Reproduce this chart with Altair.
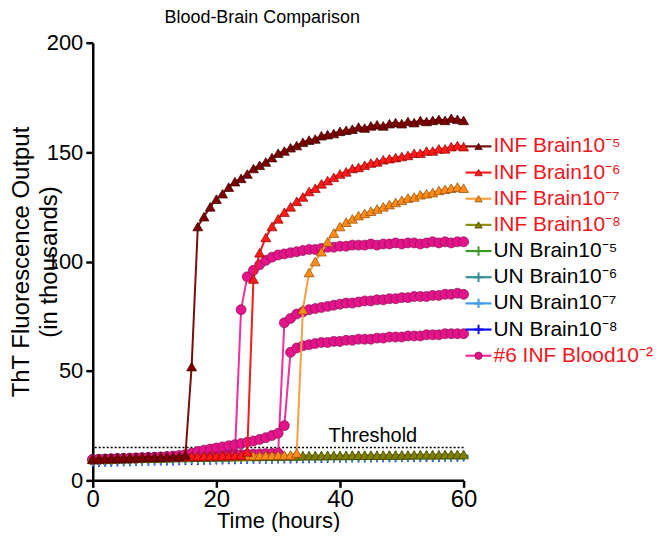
import altair as alt
import pandas as pd

# ---------------- data (in thousands) ----------------
hours = list(range(0, 61))

inf_brain_5 = [9.8, 9.9, 10.0, 10.1, 10.2, 10.3, 10.3, 10.4, 10.5, 10.6,
               10.6, 10.7, 10.8, 10.9, 11.0, 11.6, 52.0, 116.0, 120.5, 125.0,
               128.5, 131.0, 134.0, 136.5, 138.0, 140.0, 142.5, 144.0, 145.5, 147.5,
               149.5, 150.5, 152.0, 153.0, 154.5, 155.5, 156.0, 157.5, 158.0, 158.5,
               159.5, 160.0, 160.5, 161.5, 161.0, 162.0, 162.5, 162.0, 163.0, 163.5,
               163.0, 164.0, 163.5, 164.5, 164.0, 164.5, 165.0, 164.5, 165.5, 165.0,
               164.5]
inf_brain_6 = [9.7, 9.8, 9.9, 10.0, 10.1, 10.2, 10.2, 10.3, 10.4, 10.5,
               10.5, 10.6, 10.7, 10.8, 10.8, 10.9, 11.0, 11.0, 11.1, 11.2,
               11.2, 11.3, 11.3, 11.4, 11.5, 13.0, 92.0, 104.0, 111.0, 116.0,
               119.5, 122.5, 125.0, 127.5, 129.5, 132.0, 133.5, 135.5, 137.0, 138.5,
               140.0, 141.0, 142.5, 143.0, 144.0, 145.0, 145.5, 146.5, 147.0, 147.5,
               148.0, 148.5, 149.5, 149.5, 150.5, 150.5, 151.5, 151.5, 152.5, 153.0,
               152.5]
inf_brain_7 = [9.6, 9.7, 9.8, 9.9, 10.0, 10.1, 10.1, 10.2, 10.3, 10.3,
               10.4, 10.5, 10.5, 10.6, 10.7, 10.7, 10.8, 10.8, 10.9, 10.9,
               11.0, 11.0, 11.1, 11.1, 11.2, 11.2, 11.3, 11.3, 11.4, 11.4,
               11.5, 11.5, 11.6, 12.5, 78.0, 95.0, 100.0, 104.5, 109.0, 113.0,
               116.0, 118.0, 119.5, 121.0, 122.0, 123.0, 124.0, 125.0, 126.0, 127.0,
               128.0, 129.0, 129.5, 130.5, 131.0, 131.5, 132.5, 133.0, 133.5, 134.0,
               133.5]
inf_brain_8 = [9.6, 9.7, 9.8, 9.8, 9.9, 10.0, 10.0, 10.1, 10.2, 10.2,
               10.3, 10.3, 10.4, 10.4, 10.5, 10.5, 10.6, 10.6, 10.7, 10.7,
               10.8, 10.8, 10.8, 10.9, 10.9, 11.0, 11.0, 11.0, 11.1, 11.1,
               11.1, 11.2, 11.2, 11.2, 11.3, 11.3, 11.3, 11.3, 11.4, 11.4,
               11.4, 11.4, 11.5, 11.5, 11.5, 11.5, 11.5, 11.6, 11.6, 11.6,
               11.6, 11.6, 11.7, 11.7, 11.7, 11.7, 11.7, 11.8, 11.8, 11.8,
               11.8]
un_brain_5 = [9.3, 9.4, 9.5, 9.5, 9.6, 9.7, 9.7, 9.8, 9.9, 9.9,
              10.0, 10.0, 10.1, 10.1, 10.2, 10.2, 10.3, 10.3, 10.4, 10.4,
              10.5, 10.5, 10.5, 10.6, 10.6, 10.7, 10.7, 10.7, 10.8, 10.8,
              10.8, 10.9, 10.9, 10.9, 11.0, 11.0, 11.0, 11.0, 11.1, 11.1,
              11.1, 11.1, 11.2, 11.2, 11.2, 11.2, 11.2, 11.3, 11.3, 11.3,
              11.3, 11.3, 11.3, 11.4, 11.4, 11.4, 11.4, 11.4, 11.4, 11.4,
              11.4]
un_brain_6 = [9.0, 9.1, 9.2, 9.2, 9.3, 9.4, 9.4, 9.5, 9.6, 9.6,
              9.7, 9.7, 9.8, 9.8, 9.9, 9.9, 10.0, 10.0, 10.1, 10.1,
              10.2, 10.2, 10.3, 10.3, 10.4, 10.4, 10.4, 10.5, 10.5, 10.5,
              10.6, 10.6, 10.6, 10.7, 10.7, 10.7, 10.8, 10.8, 10.8, 10.8,
              10.9, 10.9, 10.9, 10.9, 11.0, 11.0, 11.0, 11.0, 11.0, 11.1,
              11.1, 11.1, 11.1, 11.1, 11.1, 11.2, 11.2, 11.2, 11.2, 11.2,
              11.2]
un_brain_7 = [8.6, 8.7, 8.8, 8.8, 8.9, 9.0, 9.0, 9.1, 9.2, 9.2,
              9.3, 9.3, 9.4, 9.4, 9.5, 9.5, 9.6, 9.6, 9.7, 9.7,
              9.8, 9.8, 9.9, 9.9, 10.0, 10.0, 10.1, 10.1, 10.2, 10.2,
              10.3, 10.3, 10.3, 10.4, 10.4, 10.4, 10.5, 10.5, 10.5, 10.6,
              10.6, 10.6, 10.6, 10.7, 10.7, 10.7, 10.7, 10.8, 10.8, 10.8,
              10.8, 10.8, 10.9, 10.9, 10.9, 10.9, 10.9, 11.0, 11.0, 11.0,
              11.0]
un_brain_8 = [8.2, 8.3, 8.4, 8.4, 8.5, 8.6, 8.6, 8.7, 8.8, 8.8,
              8.9, 8.9, 9.0, 9.0, 9.1, 9.1, 9.2, 9.2, 9.3, 9.3,
              9.4, 9.4, 9.5, 9.5, 9.6, 9.6, 9.7, 9.7, 9.8, 9.8,
              9.9, 9.9, 9.9, 10.0, 10.0, 10.0, 10.1, 10.1, 10.1, 10.2,
              10.2, 10.2, 10.3, 10.3, 10.3, 10.3, 10.4, 10.4, 10.4, 10.4,
              10.5, 10.5, 10.5, 10.5, 10.6, 10.6, 10.6, 10.7, 10.7, 10.7,
              10.8]
blood_a = [9.5, 9.6, 9.7, 9.8, 9.9, 10.0, 10.1, 10.2, 10.3, 10.4,
           10.5, 10.6, 10.7, 10.8, 10.9, 11.0, 11.1, 11.2, 11.3, 11.4,
           11.5, 11.6, 11.8, 12.0, 78.0, 93.0, 96.0, 98.5, 100.5, 102.0,
           103.0, 103.5, 104.0, 104.5, 105.0, 105.5, 105.5, 106.0, 106.5, 106.5,
           107.0, 107.0, 107.5, 107.5, 107.5, 108.0, 107.5, 108.0, 108.0, 108.5,
           108.0, 108.5, 108.5, 108.0, 108.5, 109.0, 108.5, 109.0, 108.5, 109.0,
           109.0]
blood_b = [9.4, 9.5, 9.6, 9.7, 9.8, 9.9, 10.0, 10.1, 10.2, 10.3,
           10.4, 10.5, 10.6, 10.7, 10.8, 10.9, 11.0, 11.1, 11.2, 11.3,
           11.4, 11.5, 11.6, 11.7, 11.8, 11.9, 12.0, 12.1, 12.2, 12.3,
           12.5, 72.0, 74.0, 76.0, 77.0, 78.0, 78.5, 79.0, 79.5, 80.0,
           80.5, 81.0, 81.0, 81.5, 82.0, 82.0, 82.5, 82.5, 83.0, 83.0,
           83.5, 83.5, 84.0, 84.0, 84.0, 84.5, 84.5, 85.0, 85.0, 85.5,
           85.0]
blood_c = [9.5, 9.6, 9.7, 9.8, 9.9, 10.0, 10.1, 10.2, 10.3, 10.4,
           10.5, 10.7, 10.9, 11.1, 11.4, 11.8, 12.4, 13.2, 13.8, 14.3,
           14.8, 15.3, 15.8, 16.3, 16.8, 17.4, 18.0, 18.7, 19.5, 20.5,
           21.5, 25.0, 58.5, 60.5, 61.5, 62.0, 62.5, 63.0, 63.0, 63.5,
           63.5, 64.0, 64.0, 64.5, 64.5, 64.5, 65.0, 65.0, 65.5, 65.5,
           65.5, 66.0, 66.0, 66.0, 66.5, 66.5, 66.5, 67.0, 67.0, 67.0,
           67.0]

legend_labels = ["INF Brain10\u207b\u2075", "INF Brain10\u207b\u2076",
                 "INF Brain10\u207b\u2077", "INF Brain10\u207b\u2078",
                 "UN Brain10\u207b\u2075", "UN Brain10\u207b\u2076",
                 "UN Brain10\u207b\u2077", "UN Brain10\u207b\u2078",
                 "#6 INF Blood10\u207b\u00b2"]
series_values = [[inf_brain_5], [inf_brain_6], [inf_brain_7], [inf_brain_8],
                 [un_brain_5], [un_brain_6], [un_brain_7], [un_brain_8],
                 [blood_a, blood_b, blood_c]]
threshold = [15]
x_ticks = [0, 20, 40, 60]
y_ticks = [0, 50, 100, 150, 200]

# ---------------- styles ----------------
FONT = "Liberation Sans, Arial, Helvetica, sans-serif"
CROSS = "M-1,0L1,0M0,-1L0,1"
line_colors = ["#7a0c0c", "#f21c1c", "#f7a043", "#8f8f14", "#3a9a26", "#35908f", "#3d9cf0", "#0c0cf0", "#f0309a"]
fill_colors = ["#7d0000", "#ff1a1a", "#ff8c1a", "#7f7f00", "#3a9a26", "#35908f", "#3d9cf0", "#0c0cf0", "#e3148a"]
edge_colors = ["#3a0000", "#8a0000", "#8a4a00", "#3d3d00", "#3a9a26", "#35908f", "#3d9cf0", "#0c0cf0", "#8f0f55"]
shapes = ["triangle-up"] * 4 + [CROSS] * 4 + ["circle"]
text_colors = ["#f2161c"] * 4 + ["#000000"] * 4 + ["#f2161c"]

W, H = 372, 439

x_enc = alt.X("hour:Q", scale=alt.Scale(domain=[0, 60], nice=False),
              axis=alt.Axis(title="Time (hours)", values=x_ticks, grid=False,
                            domainColor="black", domainWidth=2.5, tickColor="black",
                            tickWidth=2.5, tickSize=7, labelFontSize=24, labelFont=FONT,
                            labelColor="black", labelPadding=0, labelFlush=False,
                            titleFont=FONT, titleFontSize=22, titleFontWeight="normal",
                            titleColor="black", titlePadding=-1))
y_enc = alt.Y("value:Q", scale=alt.Scale(domain=[0, 200], nice=False),
              axis=alt.Axis(title=["ThT Fluorescence Output", "(in thousands)"], values=y_ticks,
                            grid=False, domainColor="black", domainWidth=2.5, tickColor="black",
                            tickWidth=2.5, tickSize=7, labelFontSize=22, labelFont=FONT,
                            labelColor="black", labelPadding=3,
                            titleFont=FONT, titleFontSize=24, titleFontWeight="normal",
                            titleColor="black", titleLineHeight=28, titleX=-71, titleY=H / 2,
                            titleAngle=270, titleBaseline="middle", titleAlign="center"))

layers = []
# draw in reverse legend order so that the first legend entries end up on top
for i in reversed(range(len(legend_labels))):
    for vals in series_values[i]:
        df = pd.DataFrame({"hour": hours, "value": vals})
        base = alt.Chart(df).encode(x=x_enc, y=y_enc)
        layers.append(base.mark_line(color=line_colors[i], strokeWidth=2))
        if shapes[i] == CROSS:
            pts = base.mark_point(shape=CROSS, filled=False, stroke=line_colors[i],
                                  strokeWidth=1.6, size=90, opacity=1)
        else:
            pts = base.mark_point(shape=shapes[i], filled=True, fill=fill_colors[i],
                                  stroke=edge_colors[i], strokeWidth=0.7,
                                  size=100, opacity=1)
        layers.append(pts)

thr_df = pd.DataFrame({"value": threshold})
thr_rule = alt.Chart(thr_df).mark_rule(color="black", strokeDash=[2, 2], strokeWidth=1.6).encode(
    y=alt.Y("value:Q", scale=alt.Scale(domain=[0, 200], nice=False)))
thr_text = alt.Chart(thr_df).mark_text(text="Threshold", font=FONT, fontSize=20, color="black",
                                       align="center", baseline="middle", dy=-12).encode(
    y=alt.Y("value:Q", scale=alt.Scale(domain=[0, 200], nice=False)), x=alt.value(281))

main = alt.layer(thr_rule, *layers, thr_text).properties(
    width=W, height=H,
    title=alt.Title("Blood-Brain Comparison", font=FONT, fontSize=18, fontWeight="normal",
                    color="black", frame="group", anchor="middle", dx=-16, offset=5))

# ---------------- legend panel ----------------
leg_df = pd.DataFrame({"label": legend_labels, "line": line_colors, "fill": fill_colors,
                       "edge": edge_colors, "shape": shapes, "tcolor": text_colors})
leg_y = alt.Y("label:N", sort=legend_labels, axis=None,
              scale=alt.Scale(type="point", range=[104, 314], padding=0))
leg_base = alt.Chart(leg_df).encode(y=leg_y)
leg_rule = leg_base.mark_rule(strokeWidth=2.2).encode(
    x=alt.value(0), x2=alt.value(26), color=alt.Color("line:N", scale=None))
leg_sym = leg_base.transform_filter("datum.shape != '" + CROSS + "'").mark_point(
    filled=True, size=55, strokeWidth=0.7, opacity=1).encode(
    x=alt.value(13), shape=alt.Shape("shape:N", scale=None),
    fill=alt.Fill("fill:N", scale=None), stroke=alt.Stroke("edge:N", scale=None))
leg_cross = leg_base.transform_filter("datum.shape == '" + CROSS + "'").mark_point(
    shape=CROSS, filled=False, size=90, strokeWidth=2, opacity=1).encode(
    x=alt.value(13), stroke=alt.Stroke("line:N", scale=None))
leg_text = leg_base.mark_text(align="left", baseline="middle", font=FONT, fontSize=21).encode(
    x=alt.value(28), text="label:N", color=alt.Color("tcolor:N", scale=None))
legend = alt.layer(leg_rule, leg_sym, leg_cross, leg_text).properties(width=186, height=H)

chart = alt.hconcat(main, legend, spacing=2, bounds="flush").properties(
    padding={"left": 2, "top": 0, "right": 0, "bottom": 0}
).configure_view(stroke=None)

chart.save("out.html", embed_options={"renderer": "svg", "actions": False})
